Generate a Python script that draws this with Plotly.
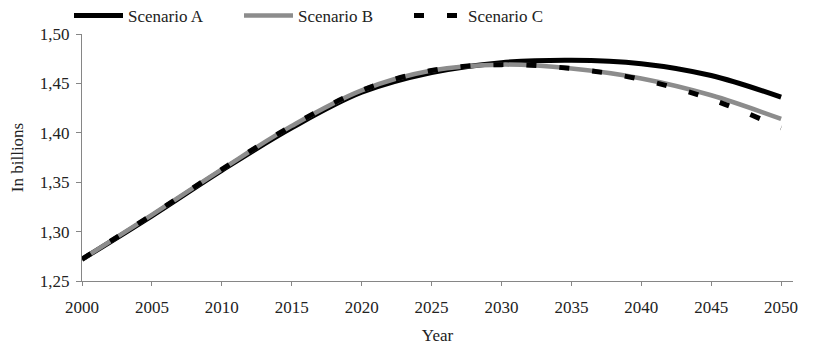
import plotly.graph_objects as go

years = [2000, 2005, 2010, 2015, 2020, 2025, 2030, 2035, 2040, 2045, 2050]
scenario_a = [1.272, 1.316, 1.362, 1.405, 1.441, 1.461, 1.471, 1.4735, 1.470, 1.458, 1.436]
scenario_b = [1.272, 1.317, 1.363, 1.407, 1.443, 1.463, 1.469, 1.465, 1.455, 1.438, 1.414]
scenario_c = [1.272, 1.317, 1.363, 1.407, 1.443, 1.463, 1.469, 1.465, 1.454, 1.434, 1.405]

FONT = "Liberation Serif, Times New Roman, serif"
TXT = "#222222"
W, H = 813, 337  # page body has an 8px default margin

fig = go.Figure()
fig.add_trace(go.Scatter(x=years, y=scenario_a, name="Scenario A", mode="lines",
                         line=dict(color="#000000", width=5, shape="spline")))
fig.add_trace(go.Scatter(x=years, y=scenario_b, name="Scenario B", mode="lines",
                         line=dict(color="#8c8c8c", width=4.5, shape="spline")))
fig.add_trace(go.Scatter(x=years, y=scenario_c, name="Scenario C", mode="lines",
                         line=dict(color="#000000", width=5, shape="spline", dash="10px,23px")))

fig.update_layout(
    width=W, height=H,
    margin=dict(l=74, r=28, t=26, b=64),
    paper_bgcolor="white", plot_bgcolor="white",
    separators=", ",
    font=dict(family=FONT, size=17, color=TXT),
    showlegend=True,
    legend=dict(orientation="h", xref="container", yref="container",
                x=61 / W, y=1 - 8 / H, xanchor="left", yanchor="middle",
                itemwidth=49,
                entrywidth=106, entrywidthmode="pixels",
                font=dict(family=FONT, size=17, color=TXT),
                bgcolor="rgba(0,0,0,0)"),
    xaxis=dict(range=[2000, 2050.85], tickvals=list(range(2000, 2051, 5)),
               automargin=False,
               showline=True, linecolor="#868686", linewidth=1.3,
               ticks="outside", ticklen=4, tickcolor="#868686",
               ticklabelstandoff=6,
               tickfont=dict(family=FONT, size=17, color=TXT),
               showgrid=False, zeroline=False,
               title=dict(text="Year", standoff=25,
                          font=dict(family=FONT, size=17, color=TXT))),
    yaxis=dict(range=[1.25, 1.50], tickvals=[1.25, 1.30, 1.35, 1.40, 1.45, 1.50],
               tickformat=".2f",
               automargin=False,
               showline=True, linecolor="#868686", linewidth=1.3,
               ticks="outside", ticklen=5, tickcolor="#868686",
               ticklabelstandoff=3,
               tickfont=dict(family=FONT, size=17, color=TXT),
               showgrid=False, zeroline=False,
               title=dict(text="In billions", standoff=24,
                          font=dict(family=FONT, size=17, color=TXT))),
)

fig.write_html("out.html")
